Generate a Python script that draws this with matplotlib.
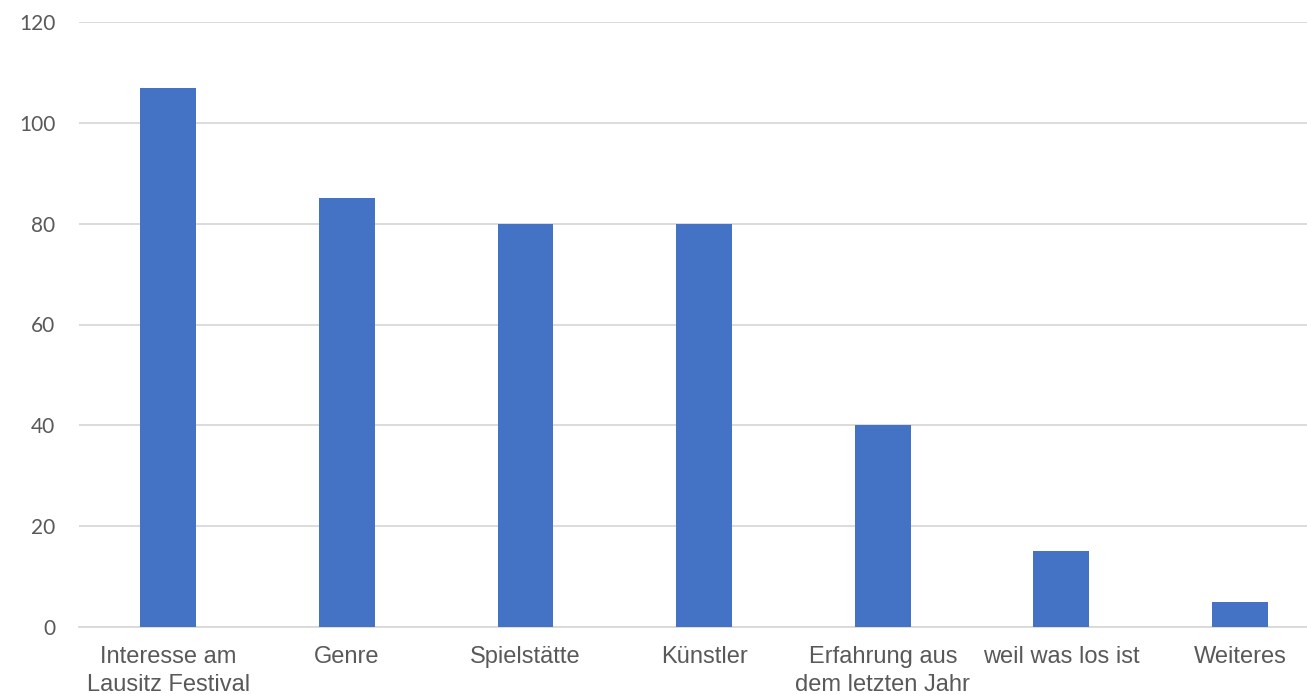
import matplotlib
matplotlib.use("Agg")
from matplotlib import pyplot as plt

# Gründe für den Besuch
kategorien = ["Interesse am\nLausitz Festival", "Genre", "Spielstätte", "Künstler",
              "Erfahrung aus\ndem letzten Jahr", "weil was los ist", "Weiteres"]
werte = [107, 85, 80, 80, 40, 15, 5]
y_ticks = [0, 20, 40, 60, 80, 100, 120]

blau = "#4472C4"
grau_text = "#595959"
grau_linie = "#D9D9D9"

fig = plt.figure(figsize=(13.07, 6.94), dpi=100)
ax = fig.add_axes([79 / 1307, 1 - 627 / 694, 1 - 79 / 1307, (627 - 22) / 694])

pos = range(len(kategorien))
ax.bar(pos, werte, width=0.313, color=blau, zorder=3)

ax.set_xlim(-0.5, 6.375)
ax.set_ylim(0, 120)
ax.set_yticks(y_ticks)
ax.set_xticks(list(pos))
ax.set_xticklabels(kategorien, family="Liberation Sans", fontsize=17,
                   color=grau_text, linespacing=1.3)
ax.set_yticklabels([str(v) for v in y_ticks], family="Lato", fontsize=15,
                   color=grau_text)

ax.grid(axis="y", color=grau_linie, linewidth=1.3, zorder=0)
for s in ["top", "right", "left"]:
    ax.spines[s].set_visible(False)
ax.spines["bottom"].set_color(grau_linie)
ax.spines["bottom"].set_linewidth(1.3)
ax.tick_params(axis="both", length=0)
ax.tick_params(axis="x", pad=14)
ax.tick_params(axis="y", pad=17)

fig.savefig("out.png", dpi=100)
